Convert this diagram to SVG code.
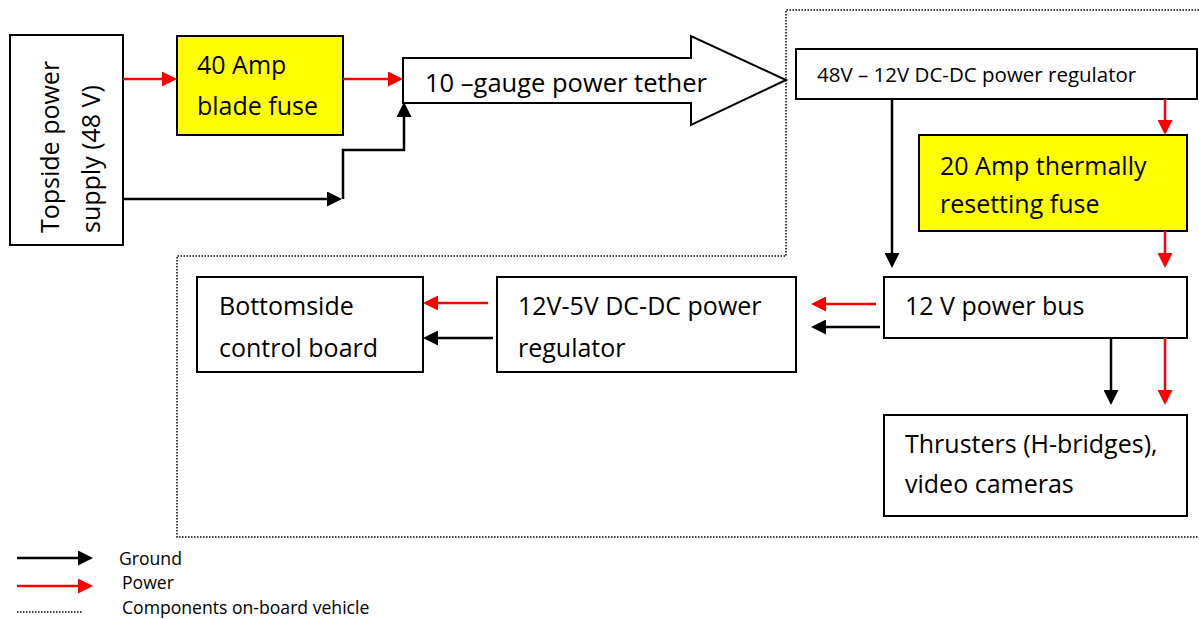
<svg xmlns="http://www.w3.org/2000/svg" width="1199" height="619" viewBox="0 0 1199 619">
<style>
.box{fill:#fff;stroke:#000;stroke-width:2}
.fuse{fill:#ffff00;stroke:#000;stroke-width:2}
.t{font-family:"Open Sans","Liberation Sans",sans-serif;font-size:25px;fill:#000}
.ts{font-family:"Open Sans","Liberation Sans",sans-serif;font-size:20.5px;fill:#000}
.tl{font-family:"Open Sans","Liberation Sans",sans-serif;font-size:17.6px;fill:#000}
.pw{fill:none;stroke:#ff0000;stroke-width:2.5}
.gd{fill:none;stroke:#000;stroke-width:2.5}
.dot{fill:none;stroke:#000;stroke-width:1.5;stroke-dasharray:1.5 1.5}
</style>
<defs>
<marker id="ar" markerUnits="userSpaceOnUse" markerWidth="15" markerHeight="15" refX="12" refY="7.5" orient="auto"><path d="M0,0 L15,7.5 L0,15 Z" fill="#ff0000"/></marker>
<marker id="ab" markerUnits="userSpaceOnUse" markerWidth="15" markerHeight="15" refX="12" refY="7.5" orient="auto"><path d="M0,0 L15,7.5 L0,15 Z" fill="#000"/></marker>
</defs>
<rect width="1199" height="619" fill="#fff"/>
<g id="vehicle-boundary">
<path class="dot" d="M1205,10 H786 V256 H177 V537 H1205"/>
</g>
<g id="topside">
<rect class="box" x="10" y="35" width="113" height="210"/>
<text class="t" transform="translate(59,233) rotate(-90)">Topside power</text>
<text class="t" transform="translate(100,233) rotate(-90)">supply (48 V)</text>
</g>
<g id="fuse40">
<rect class="fuse" x="177" y="36" width="166" height="99"/>
<text class="t" x="197" y="74">40 Amp</text>
<text class="t" x="197" y="115">blade fuse</text>
</g>
<g id="tether">
<polygon class="box" points="403,58 691,58 691,36 786,80 691,125 691,103 403,103"/>
<text class="t" x="425" y="92" style="font-size:25.5px">10 –gauge power tether</text>
</g>
<g id="reg48">
<rect class="box" x="796" y="49" width="401" height="50"/>
<text class="ts" x="817" y="82">48V – 12V DC-DC power regulator</text>
</g>
<g id="fuse20">
<rect class="fuse" x="919" y="135" width="268" height="96"/>
<text class="t" x="940" y="175">20 Amp thermally</text>
<text class="t" x="940" y="213">resetting fuse</text>
</g>
<g id="bus12">
<rect class="box" x="884" y="277" width="303" height="61"/>
<text class="t" x="905" y="315">12 V power bus</text>
</g>
<g id="thrusters">
<rect class="box" x="884" y="415" width="303" height="101"/>
<text class="t" x="905" y="453">Thrusters (H-bridges),</text>
<text class="t" x="905" y="493">video cameras</text>
</g>
<g id="reg5">
<rect class="box" x="497" y="277" width="299" height="95"/>
<text class="t" x="518" y="315">12V-5V DC-DC power</text>
<text class="t" x="518" y="357">regulator</text>
</g>
<g id="control">
<rect class="box" x="197" y="277" width="226" height="95"/>
<text class="t" x="219" y="315">Bottomside</text>
<text class="t" x="219" y="357">control board</text>
</g>
<g id="connectors">
<path class="pw" marker-end="url(#ar)" d="M123,79 H174"/>
<path class="pw" marker-end="url(#ar)" d="M343,79 H400"/>
<path class="gd" marker-end="url(#ab)" d="M123,199 H339"/>
<path class="gd" marker-end="url(#ab)" d="M343,199 V150 H404 V105"/>
<path class="gd" marker-end="url(#ab)" d="M892,99 V265"/>
<path class="pw" marker-end="url(#ar)" d="M1165,99 V132"/>
<path class="pw" marker-end="url(#ar)" d="M1165,231 V265"/>
<path class="pw" marker-end="url(#ar)" d="M876,304 H814"/>
<path class="gd" marker-end="url(#ab)" d="M880,327 H814"/>
<path class="gd" marker-end="url(#ab)" d="M1111,338 V402"/>
<path class="pw" marker-end="url(#ar)" d="M1165,338 V402"/>
<path class="pw" marker-end="url(#ar)" d="M488,303 H426"/>
<path class="gd" marker-end="url(#ab)" d="M493,338 H426"/>
</g>
<g id="legend">
<path class="gd" marker-end="url(#ab)" d="M17,558 H90"/>
<path class="pw" marker-end="url(#ar)" d="M17,586 H90"/>
<path class="dot" d="M17,612 H83"/>
<text class="tl" x="119" y="565">Ground</text>
<text class="tl" x="122" y="589">Power</text>
<text class="tl" x="122" y="613.5">Components on-board vehicle</text>
</g>
</svg>
